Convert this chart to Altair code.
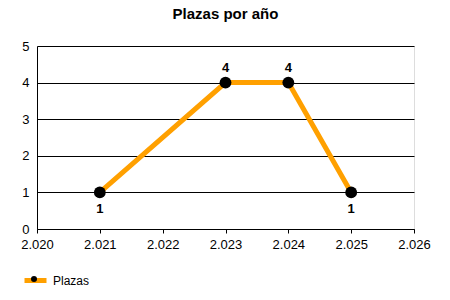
import altair as alt
import pandas as pd

years = [2021, 2023, 2024, 2025]
plazas = [1, 4, 4, 1]
series = ["Plazas"] * len(years)
x_ticks = [2020, 2021, 2022, 2023, 2024, 2025, 2026]
y_ticks = [0, 1, 2, 3, 4, 5]

df = pd.DataFrame({"year": years, "plazas": plazas, "serie": series})

FONT = "Liberation Sans"
ORANGE = "#FFA000"

x = alt.X("year:Q",
          scale=alt.Scale(domain=[2020, 2026], nice=False, zero=False),
          axis=alt.Axis(values=x_ticks, title=None, grid=False, labelFlush=False,
                        labelExpr="replace(format(datum.value, ','), ',', '.')",
                        tickSize=4, tickColor="black", domainColor="black",
                        labelPadding=5, labelFont=FONT, labelFontSize=13,
                        labelColor="black"))
y = alt.Y("plazas:Q",
          scale=alt.Scale(domain=[0, 5], nice=False),
          axis=alt.Axis(values=y_ticks, title=None, grid=True, gridColor="black",
                        gridOpacity=1, ticks=False, domainColor="black", labelFlush=False,
                        labelPadding=8, labelFont=FONT, labelFontSize=13,
                        labelColor="black"))

base = alt.Chart(df)

line = base.mark_line(strokeWidth=5, color=ORANGE).encode(
    x=x, y=y,
    color=alt.Color("serie:N", scale=alt.Scale(range=[ORANGE]),
                    legend=alt.Legend(title=None, orient="none", legendX=-15, legendY=221,
                                      symbolType="stroke", symbolSize=484,
                                      symbolStrokeWidth=5, labelFont=FONT,
                                      labelFontSize=12, labelColor="black",
                                      labelOffset=4, padding=0)))

points = base.mark_point(filled=True, size=140, opacity=1).encode(
    x=x, y=y,
    shape=alt.Shape("serie:N", scale=alt.Scale(range=["circle"]),
                    legend=alt.Legend(title=None, orient="none", legendX=-7, legendY=229,
                                      symbolSize=36, symbolFillColor="black",
                                      symbolStrokeColor="black", symbolOpacity=1,
                                      labelOpacity=0, labelFontSize=1, padding=0)),
    color=alt.value("black"))

labels_up = base.transform_filter("datum.plazas > 2").mark_text(
    dy=-15, font=FONT, fontSize=13, fontWeight="bold", color="black").encode(
    x=x, y=y, text="plazas:Q")
labels_down = base.transform_filter("datum.plazas <= 2").mark_text(
    dy=17, font=FONT, fontSize=13, fontWeight="bold", color="black").encode(
    x=x, y=y, text="plazas:Q")

chart = alt.layer(line, points, labels_up, labels_down).resolve_legend(
    color="independent", shape="independent"
).properties(
    width=377, height=183,
    title=alt.Title("Plazas por año", font=FONT, fontSize=15, fontWeight="bold",
                    color="black", anchor="middle", offset=18),
    autosize=alt.AutoSizeParams(type="none"),
    padding={"left": 37, "top": 46, "right": 36, "bottom": 71},
).configure_view(stroke=None).configure(background="white")

chart.save("out.html", embed_options={"renderer": "svg", "actions": False})
